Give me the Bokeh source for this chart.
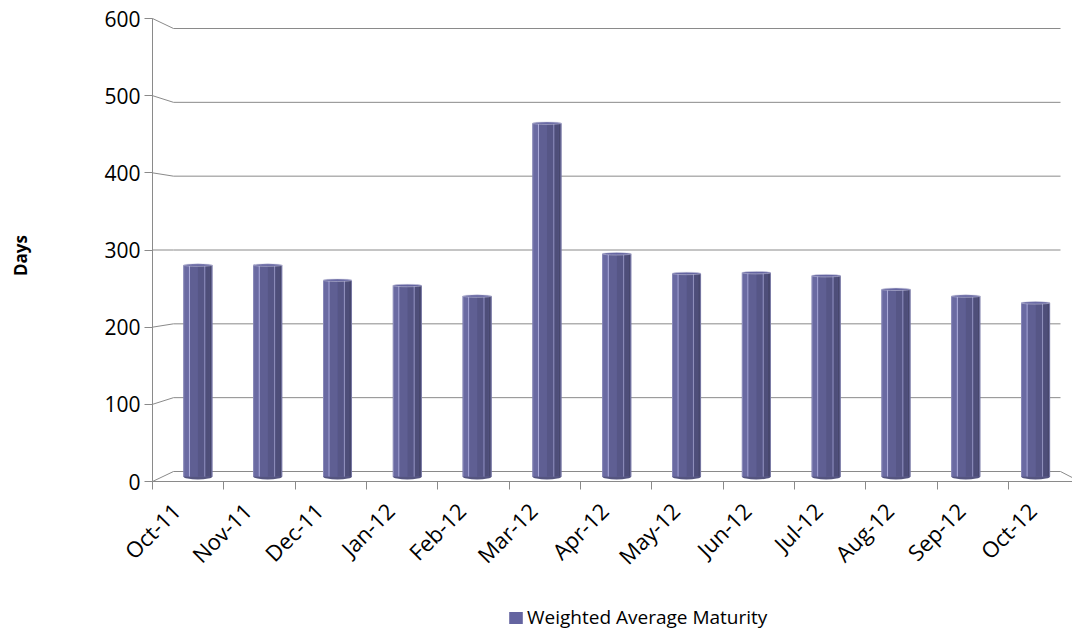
from math import pi

from bokeh.embed import file_html
from bokeh.models import (ColumnDataSource, FixedTicker, Label, Legend,
                          LegendItem, LinearAxis, Range1d)
from bokeh.plotting import figure
from bokeh.resources import INLINE
from bokeh.transform import dodge

# ---- data -------------------------------------------------------------
months = ["Oct-11", "Nov-11", "Dec-11", "Jan-12", "Feb-12", "Mar-12", "Apr-12",
          "May-12", "Jun-12", "Jul-12", "Aug-12", "Sep-12", "Oct-12"]
wam_days = [280, 280, 260, 253, 239, 468, 295, 269, 270, 266, 248, 239, 230]
y_ticks = [0, 100, 200, 300, 400, 500, 600]
series_name = "Weighted Average Maturity"
y_title = "Days"

# ---- 3-D box geometry -------------------------------------------------
# The frame covers the whole canvas; the axes are pinned with fixed_location
# so that tick labels, axis title and legend can all sit inside it.
W, H = 1072, 631
FONT = "Open Sans"
GRID = "#8a8a8a"


def plane(v0, v1, p0, p1, f0, f1):
    """Range whose values v0/v1 land on pixels p0/p1 of a frame spanning f0..f1."""
    k = (v1 - v0) / (p1 - p0)
    return Range1d(v0 + (f0 - p0) * k, v0 + (f1 - p0) * k)


# front, middle and back planes of the box (pixels from the top-left corner)
x_front = plane(0, 12, 152, 1008, 0, W)
x_mid = plane(0, 13, 162.5, 1070, 0, W)
x_back = plane(0, 13, 173, 1060, 0, W)
y_front = plane(0, 600, 481, 18, H, 0)
y_mid = plane(0, 600, 476, 23, H, 0)
y_back = plane(0, 600, 471, 28, H, 0)


def remap(v, src, dst):
    t = (v - src.start) / (src.end - src.start)
    return dst.start + t * (dst.end - dst.start)


p = figure(width=W, height=H, x_range=x_front, y_range=y_front,
           x_axis_type=None, y_axis_type=None,
           output_backend="svg", toolbar_location=None,
           min_border=0)
p.extra_x_ranges = {"mid": x_mid, "back": x_back}
p.extra_y_ranges = {"mid": y_mid, "back": y_back}
p.xgrid.visible = False
p.ygrid.visible = False
p.outline_line_color = None
p.background_fill_color = "white"
p.border_fill_color = "white"

# ---- walls: back gridlines and the side-wall connectors ---------------
p.segment(x0=[0] * len(y_ticks), y0=y_ticks, x1=[13] * len(y_ticks), y1=y_ticks,
          x_range_name="back", y_range_name="back",
          line_color=GRID, line_width=1)
side_x1 = [remap(0, x_back, x_front)] * len(y_ticks)
side_y1 = [remap(v, y_back, y_front) for v in y_ticks]
p.segment(x0=[0] * len(y_ticks), y0=y_ticks, x1=side_x1, y1=side_y1,
          line_color=GRID, line_width=1)
# floor edge on the right
p.segment(x0=[remap(13, x_back, x_front)], y0=[remap(0, y_back, y_front)],
          x1=[13], y1=[0], line_color=GRID, line_width=1)

# ---- cylinders --------------------------------------------------------
src = ColumnDataSource(dict(x=[i + 0.5 for i in range(len(months))],
                            days=wam_days, month=months))
BAR_W = 0.415
BODY = "#6464a0"

p.ellipse(x="x", y=0, width=BAR_W, height=6, height_units="screen",
          source=src, x_range_name="mid", y_range_name="mid",
          fill_color="#55557f", line_color=None)
body = p.vbar(x="x", top="days", bottom=0, width=BAR_W, source=src,
              x_range_name="mid", y_range_name="mid",
              fill_color=BODY, line_color=None)

shading = [(0.00, 0.04, "#8a8ab8"), (0.04, 0.19, "#6a6aa2"),
           (0.19, 0.23, "#a9a9d8"), (0.23, 0.50, "#5f5f93"),
           (0.50, 0.72, "#565686"), (0.72, 0.76, "#8e8eba"),
           (0.76, 0.90, "#4e4e79"), (0.90, 0.97, "#47476d"),
           (0.97, 1.00, "#7c7ca4")]
for a, b, c in shading:
    off = ((a + b) / 2 - 0.5) * BAR_W
    p.vbar(x=dodge("x", off), top="days", bottom=0, width=(b - a) * BAR_W,
           source=src, x_range_name="mid", y_range_name="mid",
           fill_color=c, line_color=None)

p.ellipse(x="x", y="days", width=BAR_W, height=2.5, height_units="screen",
          source=src, x_range_name="mid", y_range_name="mid",
          fill_color="#6464a0", line_color="#d0d0e2", line_width=0.5)

# ---- axes -------------------------------------------------------------
yax = LinearAxis(ticker=FixedTicker(ticks=y_ticks, minor_ticks=[]),
                 fixed_location=0, bounds=(0, 600),
                 major_label_text_font=FONT, major_label_text_font_size="21px",
                 major_label_text_color="black", major_label_standoff=4,
                 major_tick_in=0, major_tick_out=8,
                 major_tick_line_color=GRID, axis_line_color=GRID,
                 minor_tick_line_color=None)
p.add_layout(yax, "left")

# category labels sit a little left of the slot centre, ticks on the slot edges
label_pos = [i + 0.33 for i in range(len(months))]
xax = LinearAxis(ticker=FixedTicker(ticks=label_pos,
                                    minor_ticks=list(range(len(months)))),
                 fixed_location=0, bounds=(0, 13),
                 major_label_overrides={c: m for c, m in zip(label_pos, months)},
                 major_label_orientation=pi / 4,
                 major_label_text_font=FONT, major_label_text_font_size="22px",
                 major_label_text_color="black", major_label_standoff=17,
                 major_tick_line_color=None,
                 minor_tick_in=0, minor_tick_out=8, minor_tick_line_color=GRID,
                 axis_line_color=GRID)
p.add_layout(xax, "below")

p.add_layout(Label(x=20, y=H - 255, x_units="screen", y_units="screen",
                   text=y_title, angle=pi / 2, text_align="center",
                   text_baseline="middle", text_font=FONT,
                   text_font_size="17px", text_font_style="bold",
                   text_color="black"))

# ---- legend -----------------------------------------------------------
legend = Legend(items=[LegendItem(label=series_name, renderers=[body])],
                location=(507, 1), orientation="horizontal",
                padding=0, margin=0, spacing=0,
                border_line_color=None, background_fill_alpha=0,
                glyph_width=17, glyph_height=15, label_standoff=3,
                label_text_font=FONT, label_text_font_size="19px",
                label_text_color="black")
p.add_layout(legend)

open("out.html", "w").write(file_html(p, INLINE))
